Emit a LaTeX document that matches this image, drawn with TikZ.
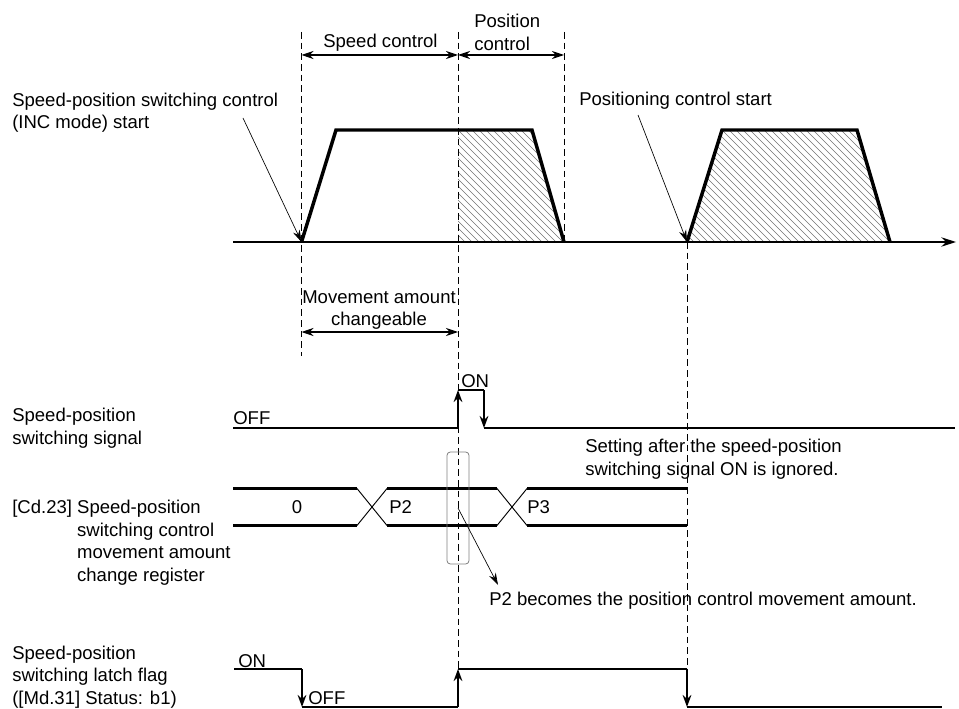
\documentclass[tikz,border=0pt]{standalone}
\usepackage{fontspec}
\setmainfont{Liberation Sans}
\usetikzlibrary{arrows.meta}
\begin{document}
\begin{tikzpicture}[x=0.75pt,y=-0.75pt,
  txt/.style={inner sep=0pt, font=\fontsize{13.9pt}{16.9pt}\selectfont, align=left},
  dashln/.style={line width=0.75pt, dash pattern=on 5pt off 3pt},
  dim/.style={line width=0.8pt, {Stealth[length=9pt,width=6pt]}-{Stealth[length=9pt,width=6pt]}},
  ptr/.style={line width=0.5pt, -{Stealth[length=9pt,width=5.5pt]}},
  prof/.style={line width=2.6pt, line join=miter},
  axisln/.style={line width=1.1pt, -{Stealth[length=11pt,width=7pt]}},
  sig/.style={line width=1.9pt},
  sigarr/.style={line width=1.9pt, -{Stealth[length=9pt,width=6.5pt]}},
  thinsig/.style={line width=1pt},
  cross/.style={line width=0.7pt},
  hatch/.style={draw=black!55, line width=0.5pt},
  winbox/.style={draw=gray, line width=0.6pt, rounded corners=2.5pt, minimum width=16.5pt, minimum height=84pt, inner sep=0pt},
]
\useasboundingbox (0,0) rectangle (959,709);

% hatching
\begin{scope}
  \clip (458,130) -- (532,130) -- (564,242) -- (458,242) -- cycle;
  \foreach \a in {0,...,31} \draw[hatch] ({346+7*\a},130) -- ++(112,112);
\end{scope}
\begin{scope}
  \clip (687,242) -- (722,130) -- (857,130) -- (890,242) -- cycle;
  \foreach \a in {0,...,46} \draw[hatch] ({575+7*\a},130) -- ++(112,112);
\end{scope}

% dashed guide lines
\coordinate (d1t) at (301.5,32);  \coordinate (d1b) at (301.5,356);
\coordinate (d2t) at (458,32);    \coordinate (d2b) at (458,669);
\coordinate (d3t) at (564,32);    \coordinate (d3b) at (564,242);
\coordinate (d4t) at (687,242);   \coordinate (d4b) at (687,669);
\draw[dashln] (d1t) -- (d1b);
\draw[dashln] (d2t) -- (d2b);
\draw[dashln] (d3t) -- (d3b);
\draw[dashln] (d4t) -- (d4b);

% dimension arrows
\draw[dim] (301.5,55) -- (458,55);
\draw[dim] (458,55) -- (564,55);
\draw[dim] (301.5,332) -- (458,332);

% top labels
\node[txt, anchor=west] (poslbl) at (474,32.5) {Position\\control};
\node[txt, anchor=west] (spdlbl) at (323,43) {Speed control};
\node[txt, anchor=west] (inclbl) at (12,112.5) {Speed-position switching control\\(INC mode) start};
\node[txt, anchor=west] (pcslbl) at (579,101) {Positioning control start};
\node[txt, align=center] (movlbl) at (379,310) {Movement amount\\changeable};

% axis and speed profiles
\coordinate (ax0) at (233,242);
\coordinate (ax1) at (956,242);
\draw[axisln] (ax0) -- (ax1);
\coordinate (s1) at (301.5,242);
\coordinate (s2) at (687,242);
\draw[prof] (s1) -- (336,130) -- (532,130) -- (564,242);
\draw[prof] (s2) -- (722,130) -- (857,130) -- (890,242);

% pointer arrows
\coordinate (incp) at (243,118);
\coordinate (pcsp) at (638,115);
\draw[ptr] (incp) -- (s1);
\draw[ptr] (pcsp) -- (s2);

% speed-position switching signal
\node[txt, anchor=west] (sigl) at (12,428) {Speed-position\\switching signal};
\node[txt, anchor=west] (sigoff) at (233,418) {OFF};
\node[txt, anchor=west] (sigon) at (461,381) {ON};
\draw[sig] (233,428) -- (458,428);
\draw[sigarr] (458,428) -- (458,390);
\draw[sig] (458,390) -- (484,390);
\draw[sigarr] (484,390) -- (484,428);
\draw[thinsig] (484,428) -- (955,428);
\node[txt, anchor=west] (setl) at (585,459) {Setting after the speed-position\\switching signal ON is ignored.};

% register
\node[txt, anchor=west] (regl) at (12,542.5) {[Cd.23] Speed-position\\\hphantom{[Cd.23]\ }switching control\\\hphantom{[Cd.23]\ }movement amount\\\hphantom{[Cd.23]\ }change register};
\draw[sig] (233,488.5) -- (357,488.5);
\draw[sig] (233,525.5) -- (357,525.5);
\draw[cross] (357,488.5) -- (387,525.5);
\draw[cross] (357,525.5) -- (387,488.5);
\draw[sig] (387,488.5) -- (497,488.5);
\draw[sig] (387,525.5) -- (497,525.5);
\draw[cross] (497,488.5) -- (527,525.5);
\draw[cross] (497,525.5) -- (527,488.5);
\draw[sig] (527,488.5) -- (687,488.5);
\draw[sig] (527,525.5) -- (687,525.5);
\node[txt] (v0) at (297,507) {0};
\node[txt, anchor=west] (vp2) at (389,507) {P2};
\node[txt, anchor=west] (vp3) at (527,507) {P3};
\node[winbox] (win) at (458,508) {};
\coordinate (p2tip) at (498,585);
\draw[ptr] (win.center) -- (p2tip);
\node[txt, anchor=west] (p2l) at (489,601) {P2 becomes the position control movement amount.};

% latch flag
\node[txt, anchor=west] (latl) at (12,677) {Speed-position\\switching latch flag\\([Md.31] Status: b1)};
\node[txt, anchor=west] (laton) at (238,661) {ON};
\node[txt, anchor=west] (latoff) at (308,698) {OFF};
\draw[sig] (234,669) -- (302,669);
\draw[sigarr] (302,669) -- (302,707);
\draw[sig] (302,707) -- (458,707);
\draw[sigarr] (458,707) -- (458,669);
\draw[sig] (458,669) -- (687,669);
\draw[sigarr] (687,669) -- (687,707);
\draw[sig] (687,707) -- (942,707);
\end{tikzpicture}
\end{document}
